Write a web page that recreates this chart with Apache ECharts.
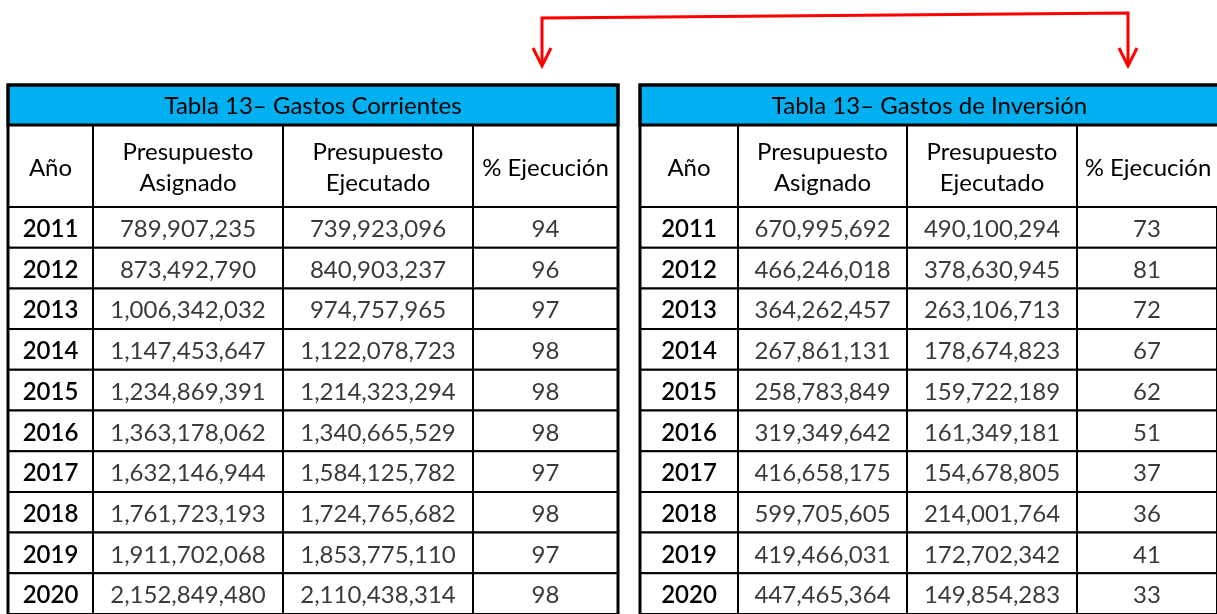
<!DOCTYPE html>
<html>
<head>
<meta charset="utf-8">
<script src="https://cdn.jsdelivr.net/npm/echarts@6/dist/echarts.min.js"></script>
<style>
  html, body { margin: 0; padding: 0; background: #fff; }
  #main { width: 1217px; height: 614px; }
</style>
</head>
<body>
<div id="main"></div>
<script>
const years = ['2011', '2012', '2013', '2014', '2015', '2016', '2017', '2018', '2019', '2020']
const headers = ['Año', 'Presupuesto\nAsignado', 'Presupuesto\nEjecutado', '% Ejecución']
const titles = ['Tabla 13– Gastos Corrientes', 'Tabla 13– Gastos de Inversión']

const corrAsignado = [789907235, 873492790, 1006342032, 1147453647, 1234869391, 1363178062, 1632146944, 1761723193, 1911702068, 2152849480]
const corrEjecutado = [739923096, 840903237, 974757965, 1122078723, 1214323294, 1340665529, 1584125782, 1724765682, 1853775110, 2110438314]
const corrPct = [94, 96, 97, 98, 98, 98, 97, 98, 97, 98]

const invAsignado = [670995692, 466246018, 364262457, 267861131, 258783849, 319349642, 416658175, 599705605, 419466031, 447465364]
const invEjecutado = [490100294, 378630945, 263106713, 178674823, 159722189, 161349181, 154678805, 214001764, 172702342, 149854283]
const invPct = [73, 81, 72, 67, 62, 51, 37, 36, 41, 33]

const FONT = 'Lato, "Open Sans", sans-serif'
const fmt = v => v.toLocaleString('en-US')

// column layout: [left, width]
const tables = [
  { title: titles[0], cols: [[8, 85], [93, 190], [283, 190], [473, 145]], data: [years, corrAsignado.map(fmt), corrEjecutado.map(fmt), corrPct.map(String)] },
  { title: titles[1], cols: [[640, 98], [738, 169], [907, 170], [1077, 142]], data: [years, invAsignado.map(fmt), invEjecutado.map(fmt), invPct.map(String)] }
]

const rowTop = 207
const rowsHeight = 414

const grid = []
const xAxis = []
const yAxis = []
const series = []
const graphic = []

tables.forEach((t, ti) => {
  t.cols.forEach((c, ci) => {
    const gi = grid.length
    grid.push({ left: c[0], width: c[1], top: rowTop, height: rowsHeight })
    xAxis.push({ type: 'category', gridIndex: gi, data: ['c'], show: false })
    yAxis.push({ type: 'category', gridIndex: gi, data: years, inverse: true, show: false })
    const isYear = ci === 0
    series.push({
      type: 'custom',
      xAxisIndex: gi,
      yAxisIndex: gi,
      data: t.data[ci].map((txt, i) => [0, i, txt]),
      renderItem: (params, api) => {
        const p = api.coord([0, api.value(1)])
        const s = api.size([1, 1])
        const txt = t.data[ci][params.dataIndex]
        return {
          type: 'group',
          children: [
            { type: 'rect', shape: { x: p[0] - s[0] / 2, y: p[1] - s[1] / 2, width: s[0], height: s[1] }, style: { fill: '#fff', stroke: '#000', lineWidth: 2 } },
            { type: 'text', style: { text: txt, x: p[0], y: p[1] + 2, align: 'center', verticalAlign: 'middle', font: (isYear ? '600 ' : 'normal ') + '24px ' + FONT, fill: isYear ? '#000' : '#3a3a3a' } }
          ]
        }
      }
    })

    // header cell
    graphic.push({
      type: 'rect', shape: { x: c[0], y: 125, width: c[1], height: 82 },
      style: { fill: '#fff', stroke: '#000', lineWidth: 2 }, z: 50
    })
    graphic.push({
      type: 'text', x: c[0] + c[1] / 2, y: 168,
      style: { text: headers[ci], align: 'center', verticalAlign: 'middle', font: '24px ' + FONT, fill: '#000', lineHeight: 31 }, z: 51
    })
  })

  const left = t.cols[0][0]
  const last = t.cols[t.cols.length - 1]
  const w = last[0] + last[1] - left
  // title bar
  graphic.push({
    type: 'rect', shape: { x: left, y: 85, width: w, height: 40 },
    style: { fill: '#00B0F0', stroke: '#000', lineWidth: 3 }, z: 50
  })
  graphic.push({
    type: 'text', x: left + w / 2, y: 106,
    style: { text: t.title, align: 'center', verticalAlign: 'middle', font: '24px ' + FONT, fill: '#000' }, z: 51
  })
  // thick outer border
  graphic.push({
    type: 'rect', shape: { x: left, y: 85, width: w, height: 540 },
    style: { fill: 'none', stroke: '#000', lineWidth: 3 }, z: 60
  })
})

// red connector arrow
const red = { stroke: '#FF0000', lineWidth: 3, fill: 'none' }
graphic.push({ type: 'polyline', shape: { points: [[542, 64], [542, 18], [1128, 13], [1128, 64]] }, style: red, z: 70 })
graphic.push({ type: 'polyline', shape: { points: [[533, 48], [542, 66], [551, 48]] }, style: red, z: 70 })
graphic.push({ type: 'polyline', shape: { points: [[1119, 48], [1128, 66], [1137, 48]] }, style: red, z: 70 })

const chart = echarts.init(document.getElementById('main'))
chart.setOption({
  animation: false,
  backgroundColor: '#fff',
  grid,
  xAxis,
  yAxis,
  series,
  graphic
})
</script>
</body>
</html>
